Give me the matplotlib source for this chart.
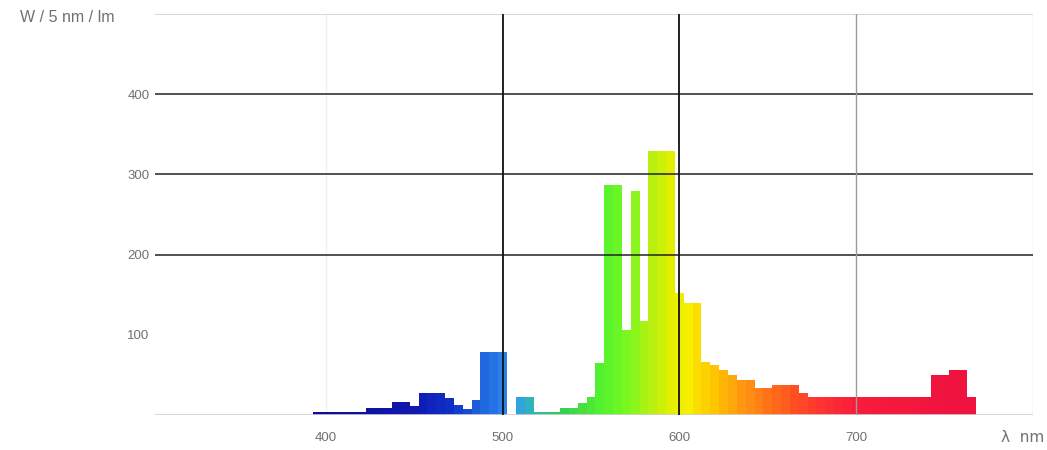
import matplotlib
matplotlib.use("Agg")
import matplotlib.pyplot as plt
import numpy as np
from matplotlib.colors import LinearSegmentedColormap, Normalize

# ---- data (5 nm bins, centre wavelengths) ----
wavelengths = list(range(395, 770, 5))
values = [
    4, 4, 4, 4, 4, 4,          # 395-420
    9, 9, 9,                   # 425-435
    16, 16,                    # 440-445
    11,                        # 450
    27, 27, 27,                # 455-465
    21, 12, 7, 19,             # 470-485
    78, 78, 78,                # 490-500
    0,                         # 505
    22, 22,                    # 510-515
    4, 4, 4,                   # 520-530
    9, 9, 15, 23, 65,          # 535-555
    287, 287,                  # 560-565
    106, 279, 117,             # 570-580
    329, 329, 329,             # 585-595
    152, 140, 140,             # 600-610
    66, 62, 56, 50, 44, 44,    # 615-640
    34, 34, 37, 37, 37,        # 645-665
    27,                        # 670
] + [22] * 14 + [              # 675-740
    50, 50, 56, 56, 22,        # 745-765
]

x_ticks = [400, 500, 600, 700]
y_ticks = [100, 200, 300, 400]
y_label = "W / 5 nm / lm"
x_label = "λ  nm"

# spectrum colour anchors
spec_wl = [390, 450, 470, 490, 500, 510, 520, 530, 545, 555, 570, 585, 595, 605, 620, 635, 650, 665, 680, 700, 770]
spec_col = ["#0c0c90", "#1018b0", "#1030c8", "#2068e0", "#2a80e8", "#30a8dc", "#30bca0", "#30c860",
            "#48e040", "#50f030", "#78f820", "#b8f010", "#e0f000", "#f8ee00", "#ffc400", "#ff9a10",
            "#ff7418", "#ff5020", "#ff3430", "#f81c3c", "#ee1040"]

norm = Normalize(min(spec_wl), max(spec_wl))
cmap = LinearSegmentedColormap.from_list(
    "spec", [((w - spec_wl[0]) / (spec_wl[-1] - spec_wl[0]), c) for w, c in zip(spec_wl, spec_col)])

fig = plt.figure(figsize=(10.47, 4.5), dpi=100)
ax = fig.add_axes([155 / 1047, 1 - 415 / 450, (1033 - 155) / 1047, (415 - 14) / 450])

ax.bar(wavelengths, values, width=5.0, align="center",
       color=[cmap(norm(w)) for w in wavelengths], linewidth=0, zorder=2)

ax.set_xlim(303.4, 800)
ax.set_ylim(0, 500)

for s in ax.spines.values():
    s.set_visible(False)

# grid lines
ax.axhline(0, color="#d0d0d0", lw=1.2, zorder=3)
ax.axhline(500, color="#d0d0d0", lw=1.2, zorder=3)
for yv in [200, 300, 400]:
    ax.axhline(yv, color="#222222", lw=1.1, zorder=3)
ax.axvline(400, color="#f0f0f0", lw=1.0, zorder=1)
ax.axvline(500, color="#111111", lw=1.3, zorder=3)
ax.axvline(600, color="#111111", lw=1.3, zorder=3)
ax.axvline(700, color="#9a9a9a", lw=1.0, zorder=3)
ax.axvline(800, color="#e8e8e8", lw=1.0, zorder=1)

ax.set_xticks(x_ticks)
ax.set_xticklabels([str(t) for t in x_ticks])
ax.set_yticks(y_ticks)
ax.set_yticklabels([str(t) for t in y_ticks])
ax.tick_params(length=0, labelsize=9.5, colors="#707070", pad=12)
ax.tick_params(axis="y", pad=4)
for lbl in ax.get_xticklabels() + ax.get_yticklabels():
    lbl.set_family("Liberation Sans")

fig.text(20 / 1047, 1 - 17 / 450, y_label, fontsize=11.5, color="#707070",
         family="Liberation Sans", ha="left", va="center")
fig.text(1044 / 1047, 1 - 437 / 450, x_label, fontsize=11, color="#707070",
         family="DejaVu Sans", ha="right", va="center")

fig.savefig("out.png", dpi=100, facecolor="white")
